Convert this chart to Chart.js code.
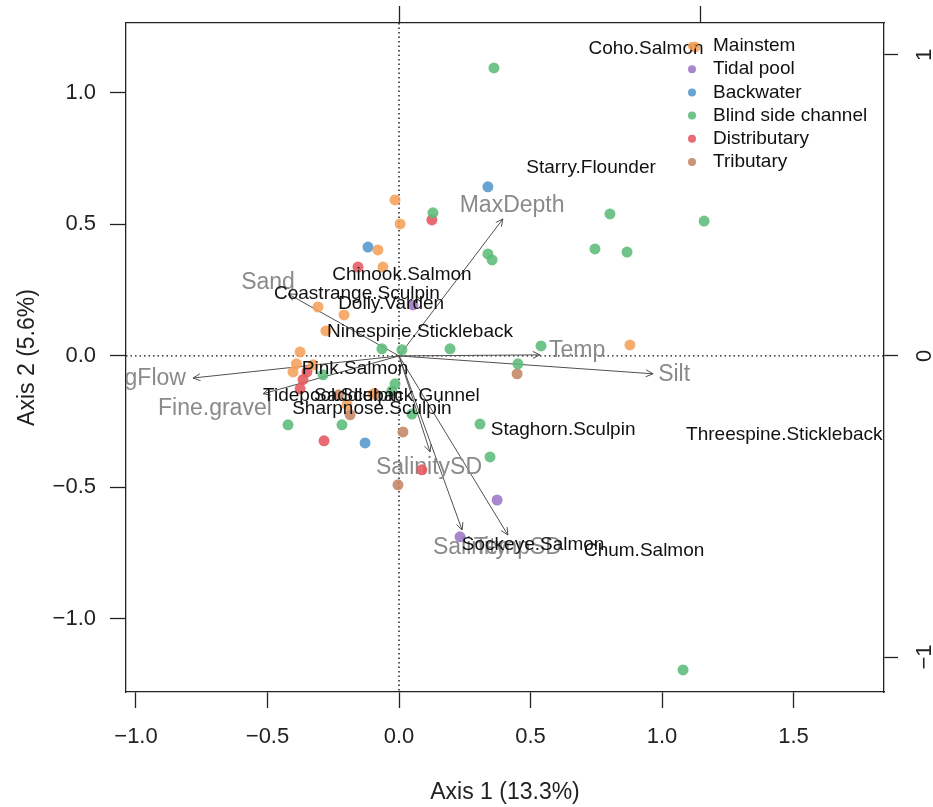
<!DOCTYPE html>
<html>
<head>
<meta charset="utf-8">
<title>Ordination biplot</title>
<style>
  html, body { margin: 0; padding: 0; background: #fff; }
  #wrap { width: 933px; height: 807px; }
</style>
</head>
<body>
<div id="wrap"><canvas id="biplot" width="933" height="807"></canvas></div>
<script src="https://cdn.jsdelivr.net/npm/chart.js@4.4.1/dist/chart.umd.min.js"></script>
<script>
// site scores by habitat (axis 1, axis 2)
const habitats = ['Mainstem', 'Tidal pool', 'Backwater', 'Blind side channel', 'Distributary', 'Tributary'];
const habitatColors = ['rgba(245,160,88,0.88)', 'rgba(160,122,200,0.9)', 'rgba(88,154,206,0.9)',
                       'rgba(92,188,122,0.88)', 'rgba(228,86,92,0.88)', 'rgba(198,136,104,0.9)'];

const mainstem = [[1.125, 1.175], [-0.015, 0.593], [0.004, 0.502], [-0.080, 0.403], [-0.061, 0.338],
                  [-0.308, 0.186], [-0.209, 0.156], [-0.278, 0.095], [-0.376, 0.015], [-0.403, -0.061],
                  [-0.327, -0.034], [0.878, 0.042], [-0.198, -0.186], [-0.390, -0.030], [-0.099, -0.145]];
const tidalPool = [[0.053, 0.194], [0.373, -0.548], [0.232, -0.688]];
const backwater = [[0.338, 0.643], [-0.118, 0.414], [-0.129, -0.331]];
const blindSide = [[0.361, 1.095], [0.129, 0.544], [0.802, 0.540], [1.160, 0.513], [0.745, 0.407],
                   [0.867, 0.395], [0.338, 0.388], [0.354, 0.365], [-0.065, 0.027], [0.011, 0.023],
                   [0.194, 0.027], [0.540, 0.038], [0.452, -0.030], [-0.289, -0.072], [-0.015, -0.106],
                   [-0.027, -0.133], [0.049, -0.221], [-0.422, -0.262], [-0.217, -0.262], [0.308, -0.259],
                   [0.346, -0.384], [1.080, -1.194]];
const distributary = [[0.125, 0.517], [-0.156, 0.338], [-0.350, -0.061], [-0.376, -0.125],
                      [-0.285, -0.323], [0.087, -0.433], [-0.365, -0.090]];
const tributary = [[0.449, -0.068], [-0.091, -0.144], [-0.186, -0.224], [0.015, -0.289],
                   [-0.004, -0.490], [-0.230, -0.148]];
const siteGroups = [mainstem, tidalPool, backwater, blindSide, distributary, tributary];

// species scores (label centres)
const speciesNames = ['Coho.Salmon', 'Starry.Flounder', 'Chinook.Salmon', 'Coastrange.Sculpin', 'Dolly.Varden',
                      'Ninespine.Stickleback', 'Pink.Salmon', 'Tidepool.Sculpin', 'Saddleback.Gunnel',
                      'Sharpnose.Sculpin', 'Staghorn.Sculpin', 'Threespine.Stickleback', 'Sockeye.Salmon', 'Chum.Salmon'];
const speciesX = [0.939, 0.730, 0.011, -0.160, -0.030, 0.080, -0.167, -0.251, -0.008, -0.103, 0.624, 1.465, 0.510, 0.932];
const speciesY = [1.167, 0.715, 0.308, 0.236, 0.198, 0.091, -0.049, -0.152, -0.152, -0.202, -0.281, -0.300, -0.719, -0.741];

// environmental vectors: arrow tips and label positions
const envNames = ['MaxDepth', 'Sand', 'AvgFlow', 'Fine.gravel', 'Temp', 'Silt', 'SalinitySD', 'Salinity', 'TempSD'];
const envX = [0.395, -0.422, -0.783, -0.517, 0.536, 0.966, 0.118, 0.240, 0.414];
const envY = [0.521, 0.236, -0.084, -0.144, 0.004, -0.068, -0.365, -0.662, -0.681];
const envLabelX = [0.430, -0.498, -0.977, -0.700, 0.677, 1.046, 0.114, 0.270, 0.452];
const envLabelY = [0.570, 0.278, -0.087, -0.202, 0.019, -0.072, -0.426, -0.730, -0.730];

// tick labels
const xTicks = [-1.0, -0.5, 0.0, 0.5, 1.0, 1.5];
const yTicks = [-1.0, -0.5, 0.0, 0.5, 1.0];
const topTicks = [0, 1];
const rightTicks = [-1, 0, 1];

const FONT = '"Liberation Sans", Arial, Helvetica, sans-serif';
const INK = '#222';

function fmt1(v) { return (v < 0 ? '\u2212' : '') + Math.abs(v).toFixed(1); }
function fmt0(v) { return (v < 0 ? '\u2212' : '') + Math.abs(v).toFixed(0); }

function clipArea(ctx, a) {
    ctx.beginPath();
    ctx.rect(a.left, a.top, a.right - a.left, a.bottom - a.top);
    ctx.clip();
}

// fixed axis box sizes, so the plot box sits where the reference has it
function fixBox(size) {
    return s => {
        if (s.isHorizontal()) s.height = size; else s.width = size;
        s.paddingTop = 0; s.paddingBottom = 0; s.paddingLeft = 0; s.paddingRight = 0;
    };
}

const biplotLayer = {
    id: 'biplotLayer',
    beforeDatasetsDraw(chart) {
        const { ctx, chartArea: a, scales: { x, y } } = chart;
        const x0 = x.getPixelForValue(0), y0 = y.getPixelForValue(0);
        ctx.save();
        clipArea(ctx, a);

        // dotted zero lines
        ctx.strokeStyle = '#111';
        ctx.lineWidth = 1.4;
        ctx.setLineDash([1.5, 3]);
        ctx.beginPath();
        ctx.moveTo(a.left, y0); ctx.lineTo(a.right, y0);
        ctx.moveTo(x0, a.top); ctx.lineTo(x0, a.bottom);
        ctx.stroke();
        ctx.setLineDash([]);

        // arrows
        ctx.strokeStyle = '#505050';
        ctx.lineWidth = 1;
        envNames.forEach((n, i) => {
            const px = x.getPixelForValue(envX[i]), py = y.getPixelForValue(envY[i]);
            const ang = Math.atan2(py - y0, px - x0);
            const h = 8;
            ctx.beginPath();
            ctx.moveTo(x0, y0); ctx.lineTo(px, py);
            ctx.moveTo(px - h * Math.cos(ang - 0.45), py - h * Math.sin(ang - 0.45));
            ctx.lineTo(px, py);
            ctx.lineTo(px - h * Math.cos(ang + 0.45), py - h * Math.sin(ang + 0.45));
            ctx.stroke();
        });

        // arrow labels
        ctx.fillStyle = '#8a8a8a';
        ctx.font = '23px ' + FONT;
        ctx.textAlign = 'center';
        ctx.textBaseline = 'middle';
        envNames.forEach((n, i) => {
            ctx.fillText(n, x.getPixelForValue(envLabelX[i]), y.getPixelForValue(envLabelY[i]));
        });
        ctx.restore();
    },
    afterDatasetsDraw(chart) {
        const { ctx, chartArea: a, scales: { x, y, y2 } } = chart;

        // species names
        ctx.save();
        clipArea(ctx, a);
        ctx.fillStyle = '#111';
        ctx.font = '19px ' + FONT;
        ctx.textAlign = 'center';
        ctx.textBaseline = 'middle';
        speciesNames.forEach((n, i) => {
            ctx.fillText(n, x.getPixelForValue(speciesX[i]), y.getPixelForValue(speciesY[i]));
        });

        // legend, top right inside the box
        ctx.textAlign = 'left';
        chart.data.datasets.forEach((ds, i) => {
            const ly = a.top + 23 + i * 23.2;
            ctx.fillStyle = ds.backgroundColor;
            ctx.beginPath();
            ctx.arc(a.right - 192, ly, 4, 0, Math.PI * 2);
            ctx.fill();
            ctx.fillStyle = '#111';
            ctx.fillText(ds.label, a.right - 171, ly);
        });
        ctx.restore();

        // right axis labels, parallel to the axis
        ctx.save();
        ctx.fillStyle = INK;
        ctx.font = '22px ' + FONT;
        ctx.textAlign = 'center';
        ctx.textBaseline = 'middle';
        y2.ticks.forEach(t => {
            ctx.save();
            ctx.translate(a.right + 41, y2.getPixelForValue(t.value));
            ctx.rotate(-Math.PI / 2);
            ctx.fillText(fmt0(t.value), 0, 0);
            ctx.restore();
        });
        ctx.restore();
    }
};

const tickGrid = len => ({ drawOnChartArea: false, tickLength: len, tickColor: INK, tickWidth: 1.3 });
const edge = { display: true, color: INK, width: 1.3 };

new Chart(document.getElementById('biplot'), {
    type: 'scatter',
    data: {
        datasets: habitats.map((h, i) => ({
            label: h,
            data: siteGroups[i].map(p => ({ x: p[0], y: p[1] })),
            backgroundColor: habitatColors[i],
            borderWidth: 0,
            pointRadius: 5.5,
            pointHoverRadius: 5.5
        }))
    },
    options: {
        responsive: false,
        animation: false,
        events: [],
        layout: { padding: 0 },
        plugins: {
            legend: { display: false },
            tooltip: { enabled: false }
        },
        scales: {
            x: {
                type: 'linear', position: 'bottom', min: -1.038, max: 1.844,
                afterBuildTicks: s => { s.ticks = xTicks.map(v => ({ value: v })); },
                afterFit: fixBox(115),
                ticks: { font: { family: FONT, size: 22 }, color: INK, padding: 16, callback: v => fmt1(v) },
                grid: tickGrid(16),
                border: edge,
                title: { display: true, text: 'Axis 1 (13.3%)', color: INK,
                         font: { family: FONT, size: 23 }, padding: { top: 0, bottom: 1 } }
            },
            y: {
                type: 'linear', position: 'left', min: -1.278, max: 1.266,
                afterBuildTicks: s => { s.ticks = yTicks.map(v => ({ value: v })); },
                afterFit: fixBox(126),
                ticks: { font: { family: FONT, size: 22 }, color: INK, padding: 14, callback: v => fmt1(v) },
                grid: tickGrid(16),
                border: edge,
                title: { display: true, text: 'Axis 2 (5.6%)', color: INK,
                         font: { family: FONT, size: 23 }, padding: { top: 14, bottom: 0 } }
            },
            x2: {
                type: 'linear', position: 'top', min: -0.907, max: 1.611,
                afterBuildTicks: s => { s.ticks = topTicks.map(v => ({ value: v })); },
                afterFit: fixBox(23),
                ticks: { display: false },
                grid: tickGrid(17),
                border: edge
            },
            y2: {
                type: 'linear', position: 'right', min: -1.116, max: 1.106,
                afterBuildTicks: s => { s.ticks = rightTicks.map(v => ({ value: v })); },
                afterFit: fixBox(49),
                ticks: { display: false },
                grid: tickGrid(14),
                border: edge
            }
        }
    },
    plugins: [biplotLayer]
});
</script>
</body>
</html>
